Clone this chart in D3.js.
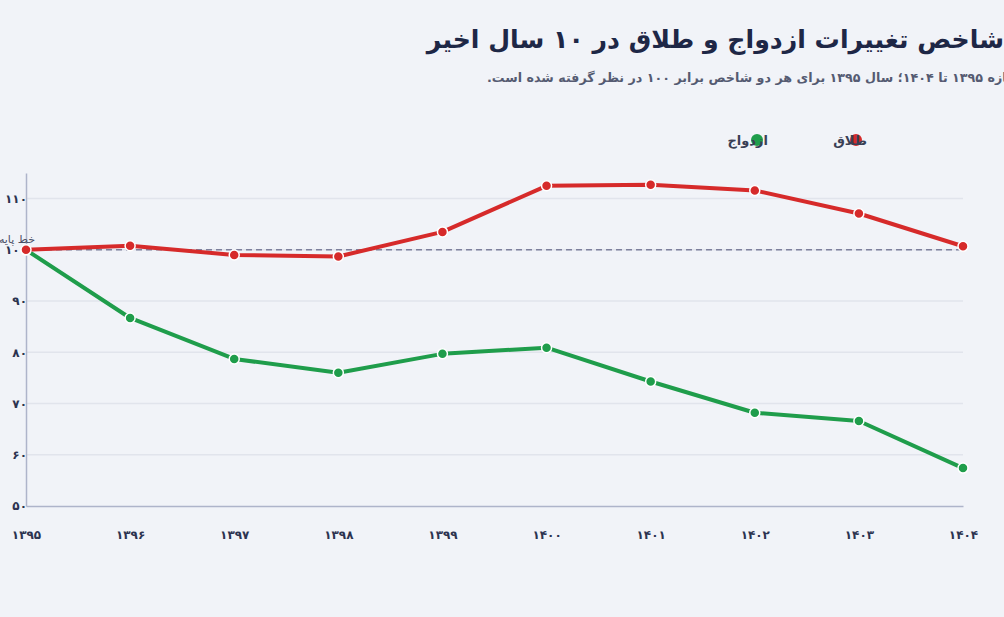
<!DOCTYPE html>
<html>
<head>
<meta charset="utf-8">
<script src="https://cdn.jsdelivr.net/npm/d3@7"></script>
<style>
  body { margin: 0; background: #f1f3f8; overflow: hidden; }
  svg { display: block; font-family: "DejaVu Sans", sans-serif; }
</style>
</head>
<body>
<div id="wrapper"></div>
<script>
// years (Persian calendar) and the two index series, 1395 = 100
const years = [1395, 1396, 1397, 1398, 1399, 1400, 1401, 1402, 1403, 1404];
const marriage = [100, 86.7, 78.7, 76.0, 79.7, 80.9, 74.3, 68.2, 66.6, 57.4];
const divorce = [100, 100.8, 99.0, 98.7, 103.5, 112.5, 112.7, 111.6, 107.1, 100.7];
const yTicks = [50, 60, 70, 80, 90, 100, 110];
const seriesNames = ["ازدواج", "طلاق"];
const seriesColors = ["#1f9d4b", "#d62a2a"];

const title = "شاخص تغییرات ازدواج و طلاق در ۱۰ سال اخیر";
const subtitle = "روند شاخص‌ها در بازه ۱۳۹۵ تا ۱۴۰۴؛ سال ۱۳۹۵ برای هر دو شاخص برابر ۱۰۰ در نظر گرفته شده است.";
const baseLabel = "خط پایه";

const fa = s => String(s).replace(/[0-9]/g, d => "۰۱۲۳۴۵۶۷۸۹"[d]);

function drawChart() {
  const width = 1004, height = 617;
  const left = 26, right = 963, top = 173, bottom = 506;

  const svg = d3.select("#wrapper").append("svg")
    .attr("width", width)
    .attr("height", height);

  const x = d3.scaleLinear().domain([1395, 1404]).range([left, right]);
  const y = d3.scaleLinear().domain([50, 115]).range([bottom, top]);

  // title: right edge at the page edge
  svg.append("text")
    .attr("x", 1004).attr("y", 48)
    .attr("direction", "rtl")
    .attr("text-anchor", "start")
    .attr("font-size", 25.2).attr("font-weight", "bold")
    .attr("fill", "#1e2746")
    .text(title);
  // subtitle: left end pinned, its start runs past the right edge
  svg.append("text")
    .attr("x", 487).attr("y", 82)
    .attr("direction", "rtl")
    .attr("text-anchor", "end")
    .attr("font-size", 12.7).attr("font-weight", "bold")
    .attr("fill", "#555b72")
    .text(subtitle);

  // grid
  svg.append("g").selectAll("line")
    .data(yTicks.filter(d => d > 50))
    .enter().append("line")
    .attr("x1", left).attr("x2", right)
    .attr("y1", d => y(d)).attr("y2", d => y(d))
    .attr("stroke", "#e1e4ec").attr("stroke-width", 1.5);

  // y axis
  const yAxis = svg.append("g")
    .attr("transform", `translate(${left},0)`)
    .call(d3.axisLeft(y).tickValues(yTicks).tickSize(0).tickPadding(-1).tickFormat(fa));
  yAxis.select(".domain").attr("stroke", "#aeb4ca").attr("stroke-width", 1.5);
  yAxis.selectAll("text")
    .attr("font-size", 12).attr("font-weight", "bold")
    .attr("fill", "#2c3350").attr("font-family", "DejaVu Sans");

  // x axis
  const xAxis = svg.append("g")
    .attr("transform", `translate(0,${bottom})`)
    .call(d3.axisBottom(x).tickValues(years).tickSize(0).tickPadding(24).tickFormat(fa));
  xAxis.select(".domain").attr("stroke", "#aeb4ca").attr("stroke-width", 1.5);
  xAxis.selectAll("text")
    .attr("font-size", 12).attr("font-weight", "bold")
    .attr("fill", "#2c3350").attr("font-family", "DejaVu Sans");

  // baseline
  svg.append("line")
    .attr("x1", left).attr("x2", right)
    .attr("y1", y(100)).attr("y2", y(100))
    .attr("stroke", "#7d809c").attr("stroke-width", 1.5)
    .attr("stroke-dasharray", "6,4");
  svg.append("text")
    .attr("x", 35).attr("y", y(100) - 7)
    .attr("text-anchor", "end")
    .attr("font-size", 11).attr("fill", "#4a4f66")
    .text(baseLabel);

  const line = d3.line()
    .x((d, i) => x(years[i]))
    .y(d => y(d));

  [marriage, divorce].forEach((vals, k) => {
    svg.append("path")
      .datum(vals)
      .attr("d", line)
      .attr("fill", "none")
      .attr("stroke", seriesColors[k])
      .attr("stroke-width", 4)
      .attr("stroke-linejoin", "round");
    svg.append("g").selectAll("circle")
      .data(vals)
      .enter().append("circle")
      .attr("cx", (d, i) => x(years[i]))
      .attr("cy", d => y(d))
      .attr("r", 5)
      .attr("fill", seriesColors[k])
      .attr("stroke", "#ffffff").attr("stroke-width", 1.5);
  });

  // legend
  const legendX = [757, 856];
  const legend = svg.append("g").selectAll("g")
    .data(seriesNames)
    .enter().append("g")
    .attr("transform", (d, i) => `translate(${legendX[i]},140)`);
  legend.append("circle")
    .attr("r", 6)
    .attr("fill", (d, i) => seriesColors[i]);
  legend.append("text")
    .attr("x", 11).attr("y", 5)
    .attr("text-anchor", "end")
    .attr("font-size", 13).attr("font-weight", "bold")
    .attr("fill", "#3a3f55")
    .text(d => d);
}
drawChart();
</script>
</body>
</html>
